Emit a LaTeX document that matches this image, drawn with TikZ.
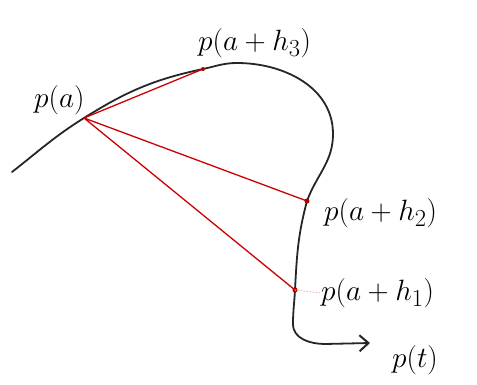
\documentclass[tikz,border=0pt]{standalone}
\usepackage{amsmath}
\usetikzlibrary{arrows.meta,positioning}
\begin{document}
\begin{tikzpicture}[x=1pt,y=1pt,>={Straight Barb[length=9pt,width=16pt,line width=2pt]},line join=round,line cap=round,
    curve/.style={line width=1.8pt,black!85},
    secant/.style={line width=1.3pt,red!80!black},
    lbl/.style={inner sep=0pt,font=\Huge,scale=1.18,transform shape}]
    \useasboundingbox (0,0) rectangle (477,384);
    % points on the curve
    \coordinate (s) at (12,212);
    \coordinate (pa) at (84,266);
    \coordinate (h3) at (203,315);
    \coordinate (top) at (237,321);
    \coordinate (rgt) at (333,250);
    \coordinate (h2) at (307,183);
    \coordinate (h1) at (295,94);
    \coordinate (bot) at (293,60);
    \coordinate (crn) at (325,40);
    \coordinate (tip) at (370,41);
    \draw[curve,->] (s) to[out=38,in=212] (pa) to[out=32,in=192] (h3) to[out=12,in=180] (top)
        to[out=0,in=90] (rgt) to[out=-90,in=70] (h2) to[out=-105,in=87] (h1)
        to[out=-93,in=90] (bot) to[out=-90,in=180] (crn) -- (tip);
    % secants
    \draw[secant] (pa)--(h3) (pa)--(h2) (pa)--(h1);
    \fill[red!70!black] (h3) circle (2pt) (h2) circle (2.5pt) (h1) circle (2.5pt);
    % labels
    \node[lbl,anchor=west] (lpa) at (34,284) {$p(a)$};
    \node[lbl,anchor=south west] (lh3) at (198,326) {$p(a+h_3)$};
    \node[lbl,anchor=west] (lh2) at (324,171) {$p(a+h_2)$};
    \node[lbl,anchor=west] (lh1) at (321,91) {$p(a+h_1)$};
    \node[lbl,anchor=west] (lt) at (392,24) {$p(t)$};
    \draw[red!30,dotted,line width=1pt] (h1)--(lh1.west);
\end{tikzpicture}
\end{document}
